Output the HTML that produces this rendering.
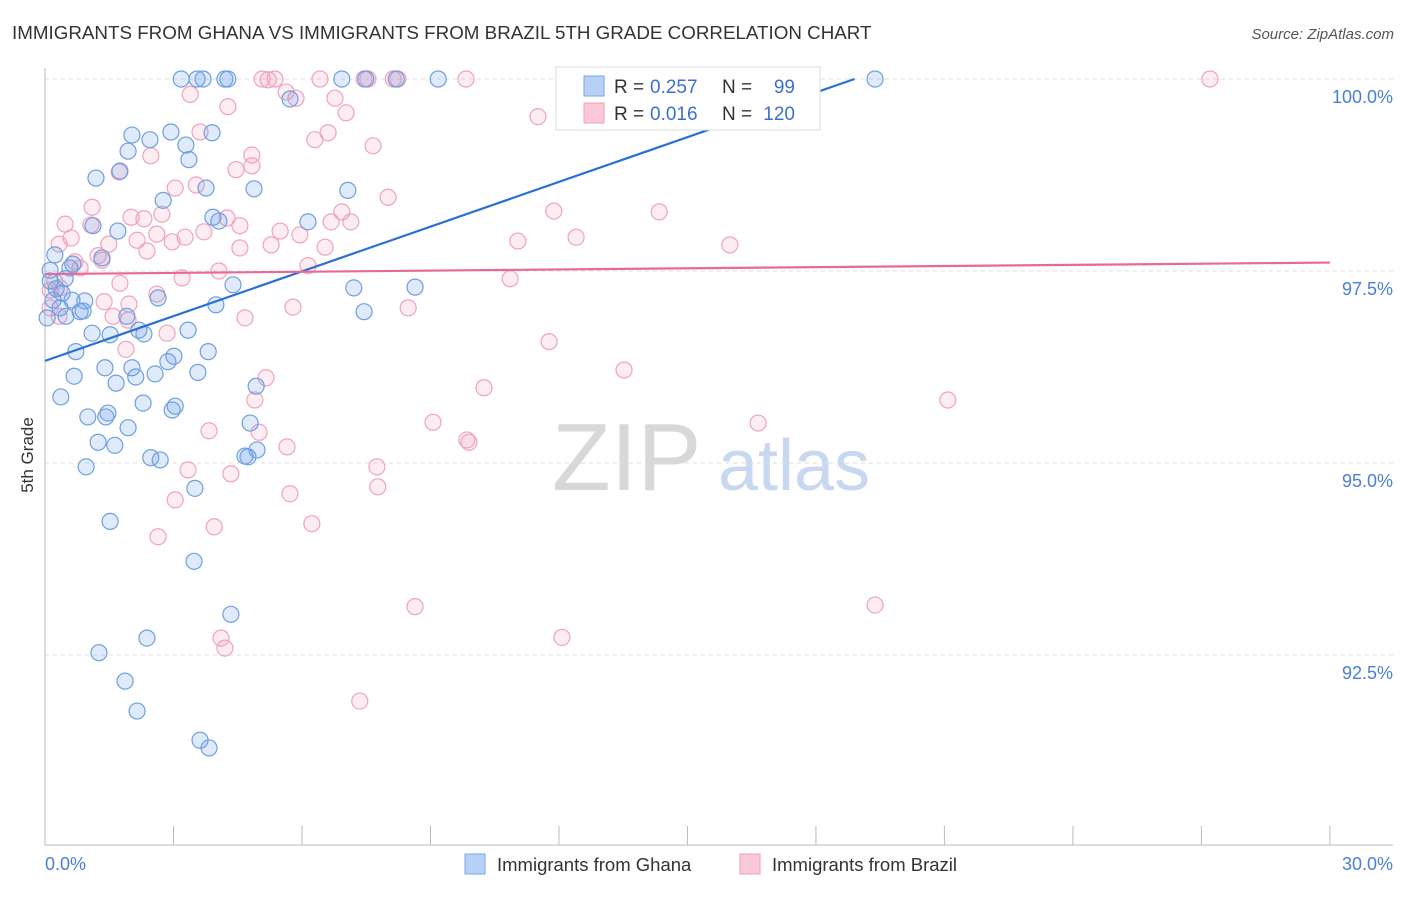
<!DOCTYPE html>
<html><head><meta charset="utf-8"><style>
body{margin:0;background:#fff;font-family:"Liberation Sans",sans-serif;}
svg text{font-family:"Liberation Sans",sans-serif;}
</style></head><body>
<svg id="chart" width="1406" height="892" xmlns="http://www.w3.org/2000/svg">
<text x="12" y="39" font-size="18.8" fill="#333">IMMIGRANTS FROM GHANA VS IMMIGRANTS FROM BRAZIL 5TH GRADE CORRELATION CHART</text>
<text x="1394" y="39" font-size="15" fill="#555" text-anchor="end" font-style="italic">Source: ZipAtlas.com</text>
<text x="0" y="0" transform="translate(33,455) rotate(-90)" font-size="17" fill="#333" text-anchor="middle">5th Grade</text>
<g>
<text x="552" y="490" font-size="96" fill="#d8d8d8" font-family="Liberation Serif">ZIP</text>
<text x="718" y="490" font-size="72" fill="#c8d8f0">atlas</text>
</g>
<g id="grid"></g><g id="axes"></g><g id="pts"></g><g id="trend"></g>
<g>
<rect x="556" y="67" width="264" height="63" fill="#fff" stroke="#ddd"/>
<rect x="584" y="76" width="20" height="20" fill="#b8d0f4" stroke="#7aa6e6"/>
<text x="614" y="93" font-size="19" fill="#333">R =</text>
<text x="650" y="93" font-size="19" fill="#3b6fd4">0.257</text>
<text x="722" y="93" font-size="19" fill="#333">N =</text>
<text x="795" y="93" font-size="19" fill="#3b6fd4" text-anchor="end">99</text>
<rect x="584" y="103" width="20" height="20" fill="#fbc8d8" stroke="#f0a0b8"/>
<text x="614" y="120" font-size="19" fill="#333">R =</text>
<text x="650" y="120" font-size="19" fill="#3b6fd4">0.016</text>
<text x="722" y="120" font-size="19" fill="#333">N =</text>
<text x="795" y="120" font-size="19" fill="#3b6fd4" text-anchor="end">120</text>
</g>
<g>
<rect x="465" y="854" width="20" height="20" fill="#b8d0f4" stroke="#7aa6e6"/>
<text x="497" y="871" font-size="18.5" fill="#333">Immigrants from Ghana</text>
<rect x="740" y="854" width="20" height="20" fill="#fbc8d8" stroke="#f0a0b8"/>
<text x="772" y="871" font-size="18.5" fill="#333">Immigrants from Brazil</text>
</g>
</svg>
<script>
const yTicks=[100,97.5,95,92.5];
const yTickLabels=["100.0%","97.5%","95.0%","92.5%"];
const xTicks=[0,3,6,9,12,15,18,21,24,27,30];
const xEndLabels=["0.0%","30.0%"];
const ghanaX=[3.18,3.55,3.69,4.20,4.27,6.93,7.49,8.20,9.18,19.38,5.72,2.03,2.94,3.90,2.45,3.29,1.94,3.36,1.75,1.19,3.76,4.88,7.07,2.76,3.92,4.06,6.14,1.70,1.12,0.23,0.65,0.58,1.33,0.47,0.12,0.26,0.40,0.93,2.64,3.99,4.39,7.21,8.64,7.45,0.82,0.49,0.89,1.91,2.19,2.31,1.10,1.52,3.34,0.72,3.81,2.87,3.01,1.40,2.03,3.57,0.68,2.12,2.57,1.66,4.93,0.37,2.29,1.00,1.47,1.42,2.97,3.04,4.79,1.94,1.24,1.63,2.47,2.69,4.67,4.74,4.95,0.96,3.50,1.52,3.48,4.34,2.38,1.26,1.87,2.15,3.62,3.83,0.05,0.19,0.35,0.63,0.12];
const ghanaY=[100,100,100,100,100,100,100,100,100,100,99.74,99.27,99.31,99.30,99.21,99.14,99.06,98.95,98.80,98.71,98.58,98.57,98.55,98.42,98.20,98.15,98.14,98.02,98.09,97.71,97.59,97.54,97.67,97.40,97.37,97.27,97.21,97.11,97.15,97.06,97.32,97.28,97.29,96.97,96.97,96.91,96.98,96.91,96.73,96.68,96.69,96.67,96.73,96.45,96.45,96.32,96.39,96.24,96.24,96.18,96.13,96.12,96.16,96.04,96.00,95.86,95.78,95.60,95.65,95.60,95.69,95.74,95.52,95.46,95.27,95.23,95.07,95.04,95.09,95.08,95.17,94.95,94.67,94.24,93.72,93.03,92.72,92.53,92.16,91.77,91.39,91.29,96.89,97.12,97.02,97.12,97.51];
const brazilX=[3.39,5.21,5.07,5.37,6.42,7.45,7.54,8.13,8.24,9.83,16.20,27.20,5.63,5.86,6.77,4.27,7.03,11.51,6.61,3.62,7.66,6.30,4.83,2.47,4.83,4.46,1.73,3.04,3.53,8.01,1.10,2.73,2.01,2.31,4.25,6.93,14.34,11.88,6.68,7.14,4.55,0.47,1.07,5.49,5.95,3.27,2.61,3.71,0.61,0.33,2.15,2.97,1.49,5.28,6.54,11.04,12.40,15.99,4.55,2.38,1.24,1.33,0.70,0.82,6.14,4.06,3.20,10.86,1.75,0.35,2.61,1.38,1.96,5.79,8.48,1.59,4.67,1.94,0.33,0.12,2.85,11.77,1.89,13.52,5.16,10.25,4.90,21.08,16.65,9.06,3.83,5.00,9.85,9.90,5.65,7.75,3.34,4.34,7.77,5.72,3.04,6.23,3.95,2.64,8.64,19.38,12.07,4.11,4.20,7.35,0.12,0.23];
const brazilY=[99.80,99.99,100,100,100,100,100,100,100,100,99.99,100,99.83,99.75,99.75,99.64,99.56,99.51,99.30,99.31,99.13,99.21,99.01,99.00,98.87,98.82,98.79,98.58,98.62,98.46,98.33,98.24,98.20,98.18,98.19,98.27,98.27,98.28,98.14,98.14,98.09,98.11,98.10,98.02,97.97,97.94,97.98,98.01,97.93,97.85,97.90,97.88,97.85,97.84,97.81,97.89,97.94,97.84,97.80,97.76,97.70,97.64,97.62,97.54,97.57,97.50,97.41,97.40,97.34,97.28,97.20,97.10,97.07,97.03,97.02,96.91,96.89,96.86,96.91,97.02,96.69,96.58,96.48,96.21,96.11,95.98,95.82,95.82,95.52,95.53,95.42,95.40,95.30,95.27,95.21,94.95,94.91,94.86,94.69,94.60,94.52,94.21,94.17,94.04,93.13,93.15,92.73,92.72,92.59,91.90,97.25,97.36];
const ghanaTrend=[0,96.33,18.9,100];
const brazilTrend=[0,97.46,30,97.61];
const NS="http://www.w3.org/2000/svg";
const sx=v=>45+v*42.83;
const sy=v=>79+(100-v)*76.8;
function mk(tag,attrs,parent){const e=document.createElementNS(NS,tag);for(const k in attrs)e.setAttribute(k,attrs[k]);parent.appendChild(e);return e;}
const grid=document.getElementById('grid'),axes=document.getElementById('axes'),pts=document.getElementById('pts'),trend=document.getElementById('trend');
yTicks.forEach((t,i)=>{
 const l=mk('line',{x1:45,x2:1393,y1:sy(t),y2:sy(t),stroke:'#ddd','stroke-dasharray':'4,4'},grid);
 
 
 const tx=mk('text',{x:1393,y:sy(t)+24,'text-anchor':'end','font-size':18,fill:'#4a7fd8'},axes);
 tx.textContent=yTickLabels[i];
 
 
});
const ya=mk('line',{x1:45,x2:45,y1:68,y2:845,stroke:'#bbb'},axes);


const xa=mk('line',{x1:45,x2:1393,y1:845,y2:845,stroke:'#bbb'},axes);


xTicks.forEach(t=>{
 const l=mk('line',{x1:sx(t),x2:sx(t),y1:826,y2:845,stroke:'#bbb'},axes);
 
 
});
const xl0=mk('text',{x:45,y:870,'font-size':18,fill:'#4a7fd8'},axes);
xl0.textContent=xEndLabels[0];


const xl1=mk('text',{x:1393,y:870,'font-size':18,fill:'#4a7fd8','text-anchor':'end'},axes);
xl1.textContent=xEndLabels[1];


brazilX.forEach((x,i)=>{
 const c=mk('circle',{cx:sx(x),cy:sy(brazilY[i]),r:8,fill:'rgba(244,150,180,0.18)',stroke:'#f0a3bc','stroke-width':1.2},pts);
 
 
});
ghanaX.forEach((x,i)=>{
 const c=mk('circle',{cx:sx(x),cy:sy(ghanaY[i]),r:8,fill:'rgba(110,160,235,0.22)',stroke:'#6f9fe0','stroke-width':1.2},pts);
 
 
});
const gt=mk('line',{x1:sx(ghanaTrend[0]),y1:sy(ghanaTrend[1]),x2:sx(ghanaTrend[2]),y2:sy(ghanaTrend[3]),stroke:'#2a6fd6','stroke-width':2.2},trend);


const bt=mk('line',{x1:sx(brazilTrend[0]),y1:sy(brazilTrend[1]),x2:sx(brazilTrend[2]),y2:sy(brazilTrend[3]),stroke:'#e86a94','stroke-width':2.2},trend);


</script>
</body></html>
